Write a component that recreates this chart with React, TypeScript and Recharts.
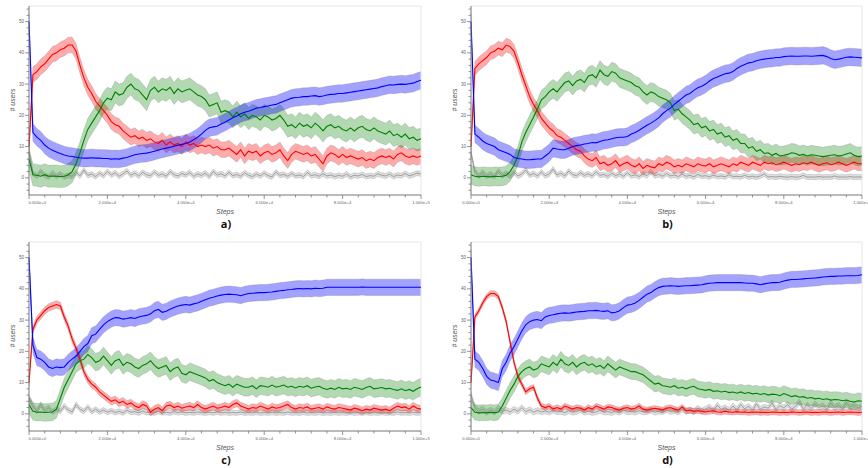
import React from "react";
import {
  ComposedChart,
  Area,
  Line,
  XAxis,
  YAxis,
  ReferenceLine,
} from "recharts";

// one sample every 1000 steps, 101 samples per series (0 .. 1e5)
const STEP = 1000;

const X_TICKS = Array.from({ length: 26 }, (_, i) => i * 4000);
const Y_TICKS = Array.from({ length: 30 }, (_, i) => -4 + i * 2);

// ---- panel a)
const RED_A = [
  10, 33, 34, 35.5, 36.5, 38, 39.5, 40, 41, 41.5,
  42.5, 42.5, 40.5, 36, 32, 29, 27, 24.5, 23, 21.5,
  20, 18, 17, 16.5, 15, 14, 13, 13.5, 12.5, 13,
  12, 12.5, 11.5, 11, 12, 10.5, 11.5, 10.5, 11, 10,
  11.5, 10.5, 11, 10, 10.5, 10, 10.5, 9.5, 10, 9,
  9, 9.5, 8.5, 7.5, 9, 7, 8.5, 8, 8.5, 7,
  8, 8.5, 7.5, 8, 9, 7, 5.5, 7.5, 8.5, 8,
  7.5, 8, 7, 7.5, 6, 4.5, 7, 8, 7.5, 6.5,
  7.5, 6.5, 7, 6.5, 6, 6.5, 5.5, 6, 5.5, 6.5,
  7, 6.5, 7, 6, 7.5, 8, 7, 6.5, 7, 6.5,
  7,
];
const GREEN_A = [
  6, 1, 0.8, 0.5, 1, 0.5, 0.6, 0.5, 0.4, 0.5,
  1, 2, 4.5, 8, 12, 15.5, 17.5, 19.5, 21.5, 24,
  25.5, 25, 27.5, 26.5, 27, 29, 30, 28.5, 28, 26.5,
  25, 28, 29, 27.5, 28.5, 28, 29, 27, 28.5, 27.5,
  28, 28.5, 27.5, 26.5, 26, 25, 23, 23.5, 24, 21,
  21.5, 21, 19.5, 21, 19.5, 20.5, 19, 20, 19.5, 18.5,
  20, 19.5, 18.5, 19, 20, 18.5, 16.5, 17, 16, 17.5,
  16.5, 17, 16, 17.5, 16.5, 15, 16.5, 17, 16, 16.5,
  15.5, 15, 16, 15, 16, 16.5, 15.5, 15, 16, 15,
  14.5, 14, 15, 13.5, 14, 13, 14, 12.5, 13, 12,
  12.5,
];
const BLUE_A = [
  50, 14.5, 13, 12, 10.5, 9.5, 8.8, 8.3, 7.8, 7.3,
  7, 6.8, 6.6, 6.4, 6.3, 6.3, 6.4, 6.3, 6.3, 6.2,
  6.2, 6, 6.1, 6, 6.3, 6.5, 7, 7.4, 7.6, 7.8,
  7.9, 8.2, 8.5, 8.9, 9.2, 9.5, 9.8, 10.1, 10.4, 10.7,
  11, 11.5, 12.2, 13, 14, 15.2, 16, 16.3, 16.5, 17.2,
  17.8, 18.5, 19.2, 19.8, 20.5, 21, 21.3, 21.8, 22.3, 22.5,
  22.8, 23, 23.3, 23.5, 24, 24.5, 25, 25.5, 25.7, 25.8,
  26, 26, 26.2, 26.3, 26, 26.2, 26.5, 26.7, 26.8, 27,
  27, 27.2, 27.4, 27.6, 27.8, 28, 28.2, 28.4, 28.6, 28.8,
  29.2, 29.5, 29.8, 29.7, 29.9, 30, 29.9, 30.1, 30.3, 30.8,
  31.2,
];
const GRAY_A = [
  8, 1.5, 0.5, 2, 0.8, 0.3, 1.5, 0.5, 1.2, 0.3,
  0.8, 0.5, 1.8, 0.6, 2.5, 0.8, 1.2, 0.4, 1.5, 0.7,
  2, 0.9, 1.6, 0.5, 1.3, 2.2, 0.8, 1.5, 0.6, 1.8,
  1, 0.7, 1.9, 0.8, 1.2, 0.5, 2, 1, 0.6, 1.4,
  0.9, 1.7, 0.5, 1.2, 0.8, 1.5, 0.4, 2, 0.9, 1.3,
  0.6, 1.8, 0.7, 1.1, 0.5, 1.6, 0.8, 0.4, 1.2, 0.6,
  1.5, 0.7, 0.3, 1.9, 0.8, 1.1, 0.5, 1.4, 0.6, 0.9,
  0.4, 1.7, 0.7, 1, 0.5, 1.3, 0.6, 0.9, 0.4, 0.8,
  0.5, 1.2, 0.3, 0.8, 0.6, 1.1, 0.4, 0.7, 0.5, 1.3,
  0.8, 0.6, 1.2, 0.4, 0.9, 0.7, 1.4, 0.6, 1, 1.5,
  1.2,
];

// ---- panel b)
const RED_B = [
  10, 35, 36.5, 37.5, 38.5, 40, 40.5, 41.5, 41, 42.5,
  42, 40.5, 37, 33, 29.5, 26, 23.5, 21.5, 19, 17.5,
  16, 15, 13.5, 13, 12, 11, 10, 9, 8.5, 7,
  6, 5.5, 6.5, 4.5, 5, 4, 4.5, 5.5, 3.8, 4.5,
  5, 4, 3.5, 4.5, 3, 4, 3.5, 3.2, 4.5, 4,
  5, 4.5, 3.5, 4, 3.5, 4.5, 4, 3.5, 4.5, 4,
  3.8, 4.5, 3.5, 4, 4.5, 4, 3.5, 4.5, 4, 5,
  4.5, 4, 5, 4.5, 4, 5, 4.5, 4.8, 4.2, 4.5,
  5, 4.5, 4, 4.5, 4.2, 4.8, 4.5, 5, 4.5, 4,
  4.5, 4.8, 4.2, 4.5, 5, 4.5, 4, 4.5, 5, 4.5,
  4.5,
];
const GREEN_B = [
  1, 0.5, 0.3, 0.5, 0.4, 0.3, 0.5, 0.4, 0.5, 0.8,
  2, 4, 7, 11.5, 14.5, 17, 19.5, 22, 25, 26,
  27.5, 28.5, 27.5, 29, 30.5, 31, 29.5, 31, 31.5, 30.5,
  32.5, 33, 32, 34.5, 33, 32.5, 34, 33.5, 32, 31.5,
  31, 30.5, 29.5, 29, 27.5, 26.5, 27.5, 27, 26, 25.5,
  25, 24, 21.5, 22, 20.5, 19.5, 18.5, 17, 17.5, 16,
  16.5, 15, 15.5, 14, 14.5, 13, 13.5, 12, 12.5, 11,
  11, 9.5, 10, 8.5, 9, 7.8, 8, 7.2, 7.8, 7,
  7.2, 7.5, 8, 7.8, 7.2, 7.5, 7, 7.4, 7.2, 7,
  6.8, 7, 7.2, 7.4, 7, 7.2, 7.6, 8, 7.2, 6.8,
  7,
];
const BLUE_B = [
  50, 14, 13, 11.8, 11, 10.5, 10, 9, 8.5, 8,
  7.5, 6.5, 6.2, 6, 5.8, 5.8, 5.9, 6, 6, 7,
  8, 9.5, 9.2, 9, 9, 9.5, 10, 10.3, 10.5, 10.8,
  11, 11.3, 11.2, 11.6, 12, 12.2, 12.5, 12.8, 13, 13,
  13.2, 14, 14.5, 15.2, 16, 16.8, 17.5, 18.3, 19.2, 20.5,
  21.5, 22.3, 23.5, 24.5, 25.5, 26.5, 27, 28, 28.8, 29.3,
  30, 31, 31.8, 32.3, 32.8, 33.3, 33.5, 34, 35, 35.7,
  36.3, 36.8, 37, 37.5, 37.8, 38, 38.2, 38.3, 38.5, 38.5,
  38.8, 38.9, 39, 38.9, 38.9, 39, 39, 38.9, 39, 39.1,
  39.2, 38.8, 38.2, 37.8, 38, 38.3, 38.6, 38.7, 38.6, 38.5,
  38.4,
];
const GRAY_B = [
  8, 2, 0.6, 1.8, 0.5, 1.2, 0.4, 2.2, 0.7, 1.5,
  0.5, 1.8, 0.6, 1.2, 2.5, 0.8, 1.4, 0.6, 1.9, 0.7,
  1.2, 2.8, 0.9, 1.5, 0.6, 2.2, 1, 0.7, 1.6, 0.8,
  1.3, 0.6, 1.9, 0.8, 1.1, 0.5, 1.5, 0.7, 1.2, 0.5,
  1.6, 0.6, 1, 0.4, 1.3, 0.7, 2, 0.6, 1.1, 0.5,
  1.4, 0.6, 0.9, 0.4, 1.2, 0.5, 0.8, 0.3, 1.1, 0.5,
  0.7, 0.3, 0.9, 0.4, 0.6, 0.3, 1, 0.4, 0.5, 0.3,
  0.8, 0.3, 0.5, 0.2, 0.6, 1.2, 0.3, 0.4, 0.2, 0.5,
  0.3, 0.2, 0.4, 0.2, 0.3, 0.8, 0.2, 0.3, 0.2, 0.4,
  0.2, 0.3, 0.2, 0.6, 0.2, 0.3, 0.2, 0.4, 0.2, 0.3,
  0.2,
];

// ---- panel c)
const RED_C = [
  10, 27, 30, 31.5, 33, 34, 34.5, 35, 34.5, 31,
  28, 24, 21, 17.5, 13.5, 11, 9.5, 8.5, 7, 6,
  5, 4, 4.5, 3.5, 4, 3, 3.5, 2.5, 2, 3,
  2.5, 0.5, 1.5, 2, 1, 2.5, 2.8, 2, 2.5, 1.8,
  2.2, 2.5, 2, 3, 2, 1.5, 2, 2.5, 1.8, 2,
  2.5, 2, 3, 3.5, 2.5, 2, 1.5, 2, 1.8, 2.5,
  2, 1.5, 2.2, 1.8, 2, 2.5, 3, 2, 1.5, 2,
  1.8, 2.2, 1.5, 1.8, 2, 1.5, 2.2, 1.8, 1.5, 2,
  1.8, 1.5, 1.2, 1.8, 1.5, 1, 1.5, 1.2, 1.8, 1.5,
  1.2, 1.5, 1, 1.8, 2.5, 2, 2.2, 1.5, 2.5, 1.8,
  1.5,
];
const GREEN_C = [
  3, 0.8, 0.5, 0.6, 0.4, 0.5, 0.6, 1.5, 5, 8.5,
  11, 13.5, 16, 17, 17.5, 19, 18, 16.5, 17, 18.5,
  17, 15.5, 17, 17.5, 15.5, 16.5, 16, 15, 14.5, 15.5,
  16, 17, 15.5, 14.5, 15, 15.5, 13.5, 14.5, 15, 13,
  12.5, 13.5, 13, 12.5, 12, 11.5, 10.5, 11, 10, 9.5,
  9, 9.5, 8.5, 9.5, 9, 8.5, 8.5, 9, 8, 9,
  8.8, 8.5, 9.2, 8.5, 8.8, 9.2, 8.5, 8.8, 8.3, 8.8,
  8.5, 9, 8.2, 8.6, 8.8, 8.2, 7.8, 8.2, 7.8, 8.5,
  8, 8.2, 7.8, 8.5, 8.2, 7.8, 8.4, 8.8, 8, 8.2,
  8.4, 8, 8.2, 7.8, 7.5, 8, 7.4, 7.8, 7.2, 8,
  8.6,
];
const BLUE_C = [
  50, 22, 18, 17.5, 16.5, 15, 14.5, 15, 14.8, 15,
  16.5, 17.5, 18.5, 20, 21.5, 22.5, 25, 25.5, 27, 28.5,
  29.5, 30.3, 30.8, 30.7, 30.3, 30.5, 30.8, 30.5, 31, 31.3,
  31.5, 32, 33, 33.4, 32.5, 32.8, 33.5, 34, 34.5, 34.8,
  35, 34.8, 35.2, 35.5, 36, 36.5, 37, 37.3, 37.7, 38,
  38.2, 38.3, 38.2, 38.1, 37.8, 38.2, 38.5, 38.6, 38.7, 38.8,
  38.8, 38.9, 39, 39.2, 39.4, 39.5, 39.7, 39.8, 40, 40.1,
  40, 40.1, 40, 40.2, 40.1, 40.2, 40.5, 40.5, 40.5, 40.5,
  40.5, 40.5, 40.5, 40.5, 40.5, 40.6, 40.5, 40.5, 40.5, 40.5,
  40.5, 40.5, 40.5, 40.5, 40.5, 40.5, 40.5, 40.5, 40.5, 40.5,
  40.5,
];
const GRAY_C = [
  5, 2.5, 0.8, 3, 1, 2, 0.6, 1.5, 0.8, 2.5,
  1.2, 0.6, 3, 1.5, 0.8, 2.2, 0.7, 1.5, 0.6, 1.2,
  0.5, 1, 0.4, 0.8, 0.3, 1.2, 0.5, 0.7, 0.3, 0.9,
  0.4, 0.6, 0.3, 0.8, 0.4, 0.5, 0.3, 0.7, 0.4, 0.6,
  0.3, 0.5, 0.3, 0.6, 0.4, 0.3, 0.5, 0.3, 0.6, 0.3,
  0.5, 0.3, 0.4, 0.3, 0.6, 0.3, 0.4, 0.3, 0.5, 0.3,
  0.4, 0.3, 0.5, 0.3, 0.4, 0.3, 0.6, 0.3, 0.4, 0.3,
  0.5, 0.3, 0.4, 0.3, 0.5, 0.3, 0.4, 0.3, 0.5, 0.3,
  0.4, 0.3, 0.5, 0.3, 0.4, 0.3, 0.5, 0.3, 0.4, 0.3,
  0.5, 0.3, 0.4, 0.3, 0.6, 0.3, 0.4, 0.3, 0.5, 0.3,
  0.4,
];

// ---- panel d)
const RED_D = [
  10, 31, 33, 35.5, 37.5, 38.5, 38.5, 37.5, 34, 29.5,
  23, 16.5, 12, 9.5, 7, 8, 8.5, 5, 2.5, 2,
  2.5, 1.5, 2, 1.5, 2.5, 2, 1.5, 2, 1.8, 1.2,
  2, 1.5, 2.5, 2, 1.5, 2.2, 2, 1.5, 1.2, 1.8,
  2, 1.5, 1.8, 2.5, 1.5, 1.2, 1.5, 1.8, 1.5, 1.2,
  1.8, 2, 1.5, 1.2, 2.2, 1, 1.2, 0.8, 1, 0.8,
  0.6, 0.8, 1, 0.6, 0.5, 0.8, 0.6, 0.5, 0.7, 0.5,
  0.6, 0.4, 0.5, 0.6, 0.4, 0.5, 0.4, 0.6, 0.5, 0.4,
  0.5, 0.4, 0.6, 0.5, 0.4, 0.5, 0.6, 0.4, 0.5, 0.4,
  0.6, 0.5, 0.4, 0.5, 0.6, 0.4, 0.5, 0.6, 0.5, 0.4,
  0.5,
];
const GREEN_D = [
  2, 0.5, 0.3, 0.4, 0.3, 0.5, 0.3, 0.6, 2.5, 5,
  7.5, 9.5, 12, 13.5, 14.5, 15, 14, 14.5, 16, 15.5,
  15, 16.5, 15.5, 17.5, 16, 15.5, 16.5, 15, 16, 16.5,
  15.5, 16, 15, 15.5, 14.5, 16, 15, 14, 15, 14.5,
  14, 13.5, 13.5, 13, 12.5, 11.5, 10.5, 9.5, 9.8, 9,
  8.8, 8.5, 9, 8.2, 8.5, 8, 8.5, 8.8, 8, 7.8,
  7.5, 7.8, 7.2, 7.4, 7, 7.2, 6.8, 7, 6.6, 7,
  6.5, 6.8, 6.4, 6.6, 6.2, 6.5, 6, 6.3, 6.2, 5.8,
  6.5, 6, 5.5, 5.8, 5.3, 5.5, 5, 5.2, 4.8, 5,
  4.6, 4.8, 4.4, 4.6, 4.5, 4.2, 4.4, 4, 3.8, 4.2,
  4,
];
const BLUE_D = [
  50, 17.5, 16.5, 14.5, 12, 10.8, 10.5, 10, 14.5, 16.5,
  19.5, 21.5, 24, 26.5, 28.5, 29.5, 30, 30.2, 29.8, 31,
  31.5, 31.7, 32, 32.2, 32.3, 32.2, 32.4, 32.6, 32.7, 32.8,
  33, 33, 33.1, 32.9, 32.8, 33, 32.3, 32.5, 33, 34,
  34.8, 35, 35.5, 36.3, 37.3, 38.3, 38.8, 39.7, 40.4, 40.8,
  40.9, 41, 40.9, 40.8, 40.9, 41, 41, 41.1, 41.2, 41.3,
  41.6, 41.8, 41.9, 42, 42, 42, 42, 42, 42, 42,
  41.9, 41.8, 41.8, 41.6, 41.3, 41.6, 41.8, 42, 42, 42.1,
  42.5, 42.8, 43, 43, 43.1, 43.2, 43.3, 43.4, 43.5, 43.6,
  43.8, 43.9, 44, 44, 44.1, 44.1, 44.2, 44.2, 44.2, 44.3,
  44.5,
];
const GRAY_D = [
  6, 2, 0.8, 1.5, 0.5, 1.2, 0.6, 1.8, 0.8, 1.2,
  0.6, 1.5, 0.8, 2, 0.7, 1.3, 0.5, 1.1, 0.6, 0.9,
  0.5, 1.2, 0.6, 0.8, 0.4, 1, 0.5, 0.7, 1.3, 0.5,
  0.8, 0.4, 0.6, 1.1, 0.5, 0.7, 0.4, 0.9, 0.5, 1.2,
  0.6, 0.8, 0.5, 1, 0.6, 0.7, 1.2, 0.5, 0.9, 0.6,
  1.3, 0.7, 1, 0.6, 1.5, 0.8, 1.1, 0.7, 1.8, 0.9,
  1.5, 2.2, 1, 2.8, 1.4, 2, 1.1, 2.5, 1.3, 3,
  1.6, 2.4, 1.2, 3.2, 1.5, 2.2, 1.8, 3.5, 1.4, 2.6,
  1.9, 3, 1.5, 2.4, 3.8, 1.6, 2.8, 1.7, 3.2, 2,
  2.6, 1.5, 3.4, 2, 2.8, 1.6, 3.6, 2.2, 2.9, 1.8,
  2.5,
];

// half-width of the shaded band around each mean line
const SPREAD_A = { red: 2.5, green: 3.5, blue: 2.8, gray: 0.8 };
const SPREAD_B = { red: 2.2, green: 3, blue: 2.8, gray: 0.8 };
const SPREAD_C = { red: 1.2, green: 2.8, blue: 2.6, gray: 0.8 };
const SPREAD_D = { red: 0.9, green: 2.5, blue: 2.6, gray: 0.9 };

const FONT = "'Liberation Sans', Arial, sans-serif";
const AXIS = "#777";

const fmtSci = (v: number) => {
  if (v === 0) return "0.000e+0";
  const exp = Math.floor(Math.log10(v));
  return `${(v / Math.pow(10, exp)).toFixed(3)}e+${exp}`;
};

// left-hand panels start the first label at the axis, right-hand ones centre it
const makeXTick = (firstStart: boolean) => (props: any) => {
  const { x, y, payload } = props;
  const v = payload.value;
  const major = v % 20000 === 0;
  const start = firstStart && v === 0;
  return (
    <g>
      <line x1={x} x2={x} y1={y} y2={y + (major ? 4 : 2.5)} stroke={AXIS} strokeWidth={0.8} />
      {major && (
        <text
          x={start ? x - 0.5 : x}
          y={y + 8.5}
          textAnchor={start ? "start" : "middle"}
          fontSize={4.2}
          fontFamily={FONT}
          fill="#666"
        >
          {fmtSci(v)}
        </text>
      )}
    </g>
  );
};

const YTick = (props: any) => {
  const { x, y, payload } = props;
  const v = payload.value;
  const major = v % 10 === 0;
  return (
    <g>
      <line x1={x - (major ? 4 : 2.5)} x2={x} y1={y} y2={y} stroke={AXIS} strokeWidth={0.8} />
      {major && (
        <text x={x - 5} y={y + 1.6} textAnchor="end" fontSize={4.6} fontFamily={FONT} fill="#666">
          {v}
        </text>
      )}
    </g>
  );
};

type Spread = { red: number; green: number; blue: number; gray: number };

type PanelProps = {
  left: number;
  top: number;
  tag: string;
  red: number[];
  green: number[];
  blue: number[];
  gray: number[];
  spread: Spread;
  rightMargin: number;
  firstStart: boolean;
};

const SERIES = [
  { key: "gray", line: "#8c8c8c", fill: "rgba(150,150,150,0.3)", width: 0.8 },
  { key: "red", line: "#ff0000", fill: "rgba(255,0,0,0.33)", width: 1.1 },
  { key: "green", line: "#008000", fill: "rgba(0,128,0,0.3)", width: 1.1 },
  { key: "blue", line: "#0000ff", fill: "rgba(0,0,255,0.36)", width: 1.1 },
];

const Panel = ({ left, top, tag, red, green, blue, gray, spread, rightMargin, firstStart }: PanelProps) => {
  const src: Record<string, number[]> = { red, green, blue, gray };
  const rows = red.map((_, i) => {
    const row: any = { step: i * STEP };
    SERIES.forEach(({ key }) => {
      const v = src[key][i];
      const s = (spread as any)[key];
      row[key] = v;
      row[key + "Band"] = [v - s, v + s];
    });
    return row;
  });
  const plotW = 430 - 29 - rightMargin;
  const cx = 29 + plotW / 2;

  return (
    <div style={{ position: "absolute", left, top, width: 430, height: 232 }}>
      <ComposedChart
        width={430}
        height={215}
        data={rows}
        margin={{ top: 6, right: rightMargin, bottom: 0, left: 0 }}
        style={{ overflow: "visible" }}
      >
        <XAxis
          dataKey="step"
          type="number"
          domain={[0, 100000]}
          ticks={X_TICKS}
          interval={0}
          tick={makeXTick(firstStart)}
          tickLine={false}
          tickSize={0}
          tickMargin={0}
          height={20}
          stroke={AXIS}
        />
        <YAxis
          type="number"
          domain={[-5.5, 55]}
          ticks={Y_TICKS}
          interval={0}
          tick={YTick}
          tickLine={false}
          tickSize={0}
          tickMargin={0}
          width={29}
          stroke={AXIS}
          allowDataOverflow
        />
        <ReferenceLine y={55} stroke="#e6e6e6" />
        <ReferenceLine x={100000} stroke="#e6e6e6" />
        {SERIES.map((s) => (
          <Area
            key={s.key + "Band"}
            type="linear"
            dataKey={s.key + "Band"}
            fill={s.fill}
            fillOpacity={1}
            stroke="rgba(110,110,110,0.4)"
            strokeWidth={0.6}
            dot={false}
            activeDot={false}
            isAnimationActive={false}
          />
        ))}
        {SERIES.map((s) => (
          <Line
            key={s.key}
            type="linear"
            dataKey={s.key}
            stroke={s.line}
            strokeWidth={s.width}
            dot={false}
            activeDot={false}
            isAnimationActive={false}
          />
        ))}
      </ComposedChart>
      <div
        style={{
          position: "absolute",
          left: 12,
          top: 100,
          transform: "translate(-50%, -50%) rotate(-90deg)",
          fontFamily: FONT,
          fontStyle: "italic",
          fontSize: 7,
          color: "#555",
          whiteSpace: "nowrap",
        }}
      >
        # users
      </div>
      <div
        style={{
          position: "absolute",
          left: cx,
          top: 210.5,
          transform: "translate(-50%, -50%)",
          fontFamily: FONT,
          fontStyle: "italic",
          fontSize: 7,
          color: "#555",
          whiteSpace: "nowrap",
        }}
      >
        Steps
      </div>
      <div
        style={{
          position: "absolute",
          left: cx + 1,
          top: 223,
          transform: "translate(-50%, -50%)",
          fontFamily: "'Open Sans', " + FONT,
          fontWeight: 700,
          fontSize: 11,
          color: "#111",
          whiteSpace: "nowrap",
        }}
      >
        {tag}
      </div>
    </div>
  );
};

export default function App() {
  return (
    <div
      style={{
        position: "absolute",
        left: 0,
        top: 0,
        width: 868,
        height: 468,
        background: "#fff",
        overflow: "hidden",
      }}
    >
      <Panel left={0} top={0} tag="a)" red={RED_A} green={GREEN_A} blue={BLUE_A} gray={GRAY_A} spread={SPREAD_A} rightMargin={9} firstStart />
      <Panel left={442} top={0} tag="b)" red={RED_B} green={GREEN_B} blue={BLUE_B} gray={GRAY_B} spread={SPREAD_B} rightMargin={10} firstStart={false} />
      <Panel left={0} top={236} tag="c)" red={RED_C} green={GREEN_C} blue={BLUE_C} gray={GRAY_C} spread={SPREAD_C} rightMargin={9} firstStart />
      <Panel left={442} top={236} tag="d)" red={RED_D} green={GREEN_D} blue={BLUE_D} gray={GRAY_D} spread={SPREAD_D} rightMargin={10} firstStart={false} />
    </div>
  );
}
